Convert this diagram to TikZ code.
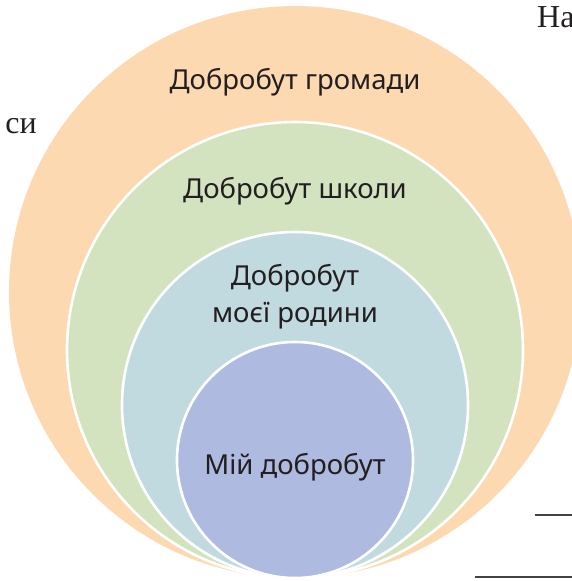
\documentclass[tikz,border=0pt]{standalone}
\usepackage{fontspec}
\setmainfont{Noto Sans}
\newfontfamily\bookserif{Liberation Serif}
\definecolor{orangefill}{HTML}{FDD9B1}
\definecolor{greenfill}{HTML}{D3E3BF}
\definecolor{bluefill}{HTML}{C1DAE0}
\definecolor{purplefill}{HTML}{AEBADF}
\definecolor{inktext}{HTML}{231F20}
\tikzset{
  ring/.style={draw=white, line width=2.6pt},
  lbl/.style={text=inktext, font=\fontsize{27.5}{32}\selectfont, inner sep=0pt, anchor=base},
  pagetext/.style={text=inktext, font=\bookserif\fontsize{32}{36}\selectfont, inner sep=0pt},
  writeline/.style={draw=inktext!85, line width=1.2pt}
}
\begin{document}
\begin{tikzpicture}[x=1pt,y=-1pt]
\useasboundingbox (0,0) rectangle (572,581);
\begin{scope}
\clip (0,0) rectangle (572,581);
\fill[orangefill] (295,292) circle[radius=286];
\filldraw[ring, fill=greenfill] (295,350) circle[radius=228];
\filldraw[ring, fill=bluefill] (295,405) circle[radius=173];
\filldraw[ring, fill=purplefill] (295,460) circle[radius=118];
\node[pagetext, anchor=base west] (na) at (537,27) {На};
\node[pagetext, anchor=base east] (si) at (37,133) {си};
\coordinate (l1a) at (535,515);
\coordinate (l1b) at (572,515);
\coordinate (l2a) at (475,577);
\coordinate (l2b) at (572,577);
\draw[writeline] (l1a) -- (l1b);
\draw[writeline] (l2a) -- (l2b);
\end{scope}
\node[lbl] (community) at (295,89) {Добробут громади};
\node[lbl] (school) at (295,198) {Добробут школи};
\node[lbl] (family1) at (295,285) {Добробут};
\node[lbl] (family2) at (295,322) {моєї родини};
\node[lbl] (mine) at (295,474) {Мій добробут};
\end{tikzpicture}
\end{document}
